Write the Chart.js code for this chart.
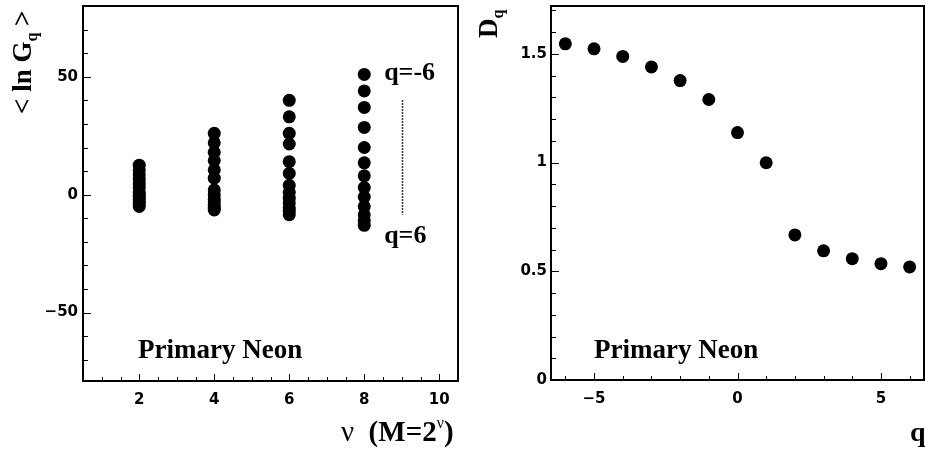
<!DOCTYPE html>
<html>
<head>
<meta charset="utf-8">
<script src="https://cdn.jsdelivr.net/npm/chart.js@4.4.1/dist/chart.umd.min.js"></script>
<style>
  html, body { margin: 0; padding: 0; background: #fff; }
  #page { position: relative; width: 925px; height: 449px; overflow: hidden; }
  .panel { position: absolute; top: 0; height: 449px; }
</style>
</head>
<body>
<div id="page">
  <div class="panel" style="left:0;width:462px"><canvas id="left"></canvas></div>
  <div class="panel" style="left:462px;width:463px"><canvas id="right"></canvas></div>
</div>
<script>
// values
const nuValues = [2, 4, 6, 8];
const qValues = [-6, -5, -4, -3, -2, -1, 0, 1, 2, 3, 4, 5, 6];
const lnG_nu2 = [12.5, 10.5, 8.5, 6.5, 4.5, 3, 1, 0, -1, -2, -3, -4, -5];
const lnG_nu4 = [26, 22, 18, 14.5, 10.5, 7, 2, 0, -2, -3, -4.5, -5.5, -6.5];
const lnG_nu6 = [40, 33, 26, 21.5, 14, 9, 4, 1, -1.5, -3.5, -5.5, -7, -8.5];
const lnG_nu8 = [51, 44, 37, 28.5, 20, 13.5, 8, 3, -1, -5, -8.5, -11, -13];
const dq = [1.546, 1.523, 1.488, 1.440, 1.377, 1.290, 1.138, 0.999, 0.667, 0.594, 0.558, 0.535, 0.520];

const leftXTicks = [2, 4, 6, 8, 10];
const leftYTicks = [-50, 0, 50];
const rightXTicks = [-5, 0, 5];
const rightYTicks = [0, 0.5, 1, 1.5];

const serif = '"Liberation Serif", "Times New Roman", serif';
const sans = '"DejaVu Sans", sans-serif';

function fmt(v) {
  return String(v).replace('-', '\u2212');
}

// ROOT-like frame with inward ticks
function frameTicks(xMinorStep, yMinorStep) {
  return {
    id: 'frameTicks',
    afterDatasetsDraw(chart) {
      const ctx = chart.ctx, a = chart.chartArea;
      const xs = chart.scales.x, ys = chart.scales.y;
      ctx.save();
      ctx.strokeStyle = '#000';
      ctx.lineWidth = 2;
      ctx.strokeRect(a.left, a.top, a.right - a.left, a.bottom - a.top);
      ctx.lineWidth = 1;
      ctx.beginPath();
      const x0 = Math.ceil(xs.min / xMinorStep) * xMinorStep;
      for (let v = x0; v <= xs.max + 1e-9; v += xMinorStep) {
        const major = xs.ticks.some(t => Math.abs(t.value - v) < 1e-6);
        const px = Math.round(xs.getPixelForValue(v)) + 0.5;
        ctx.moveTo(px, a.bottom);
        ctx.lineTo(px, a.bottom - (major ? 7 : 4));
      }
      const y0 = Math.ceil(ys.min / yMinorStep) * yMinorStep;
      for (let v = y0; v <= ys.max + 1e-9; v += yMinorStep) {
        const major = ys.ticks.some(t => Math.abs(t.value - v) < 1e-6);
        const py = Math.round(ys.getPixelForValue(v)) + 0.5;
        ctx.moveTo(a.left, py);
        ctx.lineTo(a.left + (major ? 8 : 5), py);
      }
      ctx.stroke();
      ctx.restore();
    }
  };
}

function textWithSub(ctx, parts, x, y) {
  let cx = x;
  for (const p of parts) {
    ctx.font = p.font;
    ctx.fillText(p.t, cx, y + (p.dy || 0));
    cx += ctx.measureText(p.t).width;
  }
  return cx;
}

const leftLabels = {
  id: 'leftLabels',
  afterDraw(chart) {
    const ctx = chart.ctx, xs = chart.scales.x, ys = chart.scales.y;
    ctx.save();
    ctx.fillStyle = '#000';
    ctx.textBaseline = 'alphabetic';
    // dotted guide between q=-6 and q=6
    ctx.strokeStyle = '#000';
    ctx.lineWidth = 1.6;
    ctx.setLineDash([1.5, 1.5]);
    ctx.beginPath();
    const gx = Math.round(xs.getPixelForValue(9)) + 0.5;
    ctx.moveTo(gx, ys.getPixelForValue(40));
    ctx.lineTo(gx, ys.getPixelForValue(-8.5));
    ctx.stroke();
    ctx.setLineDash([]);
    ctx.font = 'bold 26px ' + serif;
    ctx.fillText('q=-6', xs.getPixelForValue(8.53), ys.getPixelForValue(48.5));
    ctx.fillText('q=6', xs.getPixelForValue(8.53), ys.getPixelForValue(-20.5));
    ctx.font = 'bold 27px ' + serif;
    ctx.fillText('Primary Neon', 138, 358);
    // x title: nu (M=2^nu)
    textWithSub(ctx, [
      { t: '\u03bd', font: '29px ' + serif },
      { t: '  (M=2', font: 'bold 29px ' + serif },
      { t: '\u03bd', font: '16px ' + serif, dy: -13 },
      { t: ')', font: 'bold 29px ' + serif }
    ], 341, 441);
    // y title: < ln G_q > rotated
    ctx.translate(31, 114);
    ctx.rotate(-Math.PI / 2);
    textWithSub(ctx, [
      { t: '< ln G', font: 'bold 27px ' + serif },
      { t: 'q', font: 'bold 16px ' + serif, dy: 6 },
      { t: ' >', font: 'bold 27px ' + serif }
    ], 0, 0);
    ctx.restore();
  }
};

const rightLabels = {
  id: 'rightLabels',
  afterDraw(chart) {
    const ctx = chart.ctx;
    ctx.save();
    ctx.fillStyle = '#000';
    ctx.textBaseline = 'alphabetic';
    ctx.font = 'bold 27px ' + serif;
    ctx.fillText('Primary Neon', 132, 358);
    ctx.font = 'bold 28px ' + serif;
    ctx.fillText('q', 448, 441);
    ctx.translate(35, 38);
    ctx.rotate(-Math.PI / 2);
    textWithSub(ctx, [
      { t: 'D', font: 'bold 27px ' + serif },
      { t: 'q', font: 'bold 16px ' + serif, dy: 6 }
    ], 0, 0);
    ctx.restore();
  }
};

function axis(min, max, tickList, fitSize, isX, pad) {
  return {
    type: 'linear',
    min: min,
    max: max,
    grid: { display: false, drawTicks: false },
    border: { display: false },
    ticks: {
      color: '#000',
      padding: pad,
      font: { family: sans, size: 15, weight: 'bold' },
      callback: v => fmt(v)
    },
    afterBuildTicks: s => { s.ticks = tickList.map(v => ({ value: v })); },
    afterFit: s => {
      if (isX) s.height = fitSize; else s.width = fitSize;
      s.paddingTop = 0; s.paddingBottom = 0; s.paddingLeft = 0; s.paddingRight = 0;
    }
  };
}

const dotStyle = {
  showLine: false,
  backgroundColor: '#000',
  borderWidth: 0,
  pointRadius: 6.5,
  pointHoverRadius: 6.5
};

const leftSets = [lnG_nu2, lnG_nu4, lnG_nu6, lnG_nu8].map((vals, i) => Object.assign({
  label: 'nu=' + nuValues[i],
  data: vals.map(v => ({ x: nuValues[i], y: v }))
}, dotStyle));

new Chart(document.getElementById('left'), {
  type: 'scatter',
  data: { datasets: leftSets },
  options: {
    responsive: true,
    maintainAspectRatio: false,
    animation: false,
    layout: { autoPadding: false, padding: { top: 6, right: 4, left: 0, bottom: 0 } },
    plugins: { legend: { display: false }, tooltip: { enabled: false } },
    scales: {
      x: axis(0.5, 10.5, leftXTicks, 68, true, 10),
      y: axis(-79, 80, leftYTicks, 83, false, 5)
    }
  },
  plugins: [frameTicks(0.5, 10), leftLabels]
});

new Chart(document.getElementById('right'), {
  type: 'scatter',
  data: {
    datasets: [Object.assign({
      label: 'Dq',
      data: qValues.map((q, i) => ({ x: q, y: dq[i] }))
    }, dotStyle)]
  },
  options: {
    responsive: true,
    maintainAspectRatio: false,
    animation: false,
    layout: { autoPadding: false, padding: { top: 6, right: 1, left: 0, bottom: 0 } },
    plugins: { legend: { display: false }, tooltip: { enabled: false } },
    scales: {
      x: axis(-6.5, 6.5, rightXTicks, 69, true, 10),
      y: axis(0, 1.72, rightYTicks, 89, false, 4)
    }
  },
  plugins: [frameTicks(1, 0.1), rightLabels]
});
</script>
</body>
</html>
